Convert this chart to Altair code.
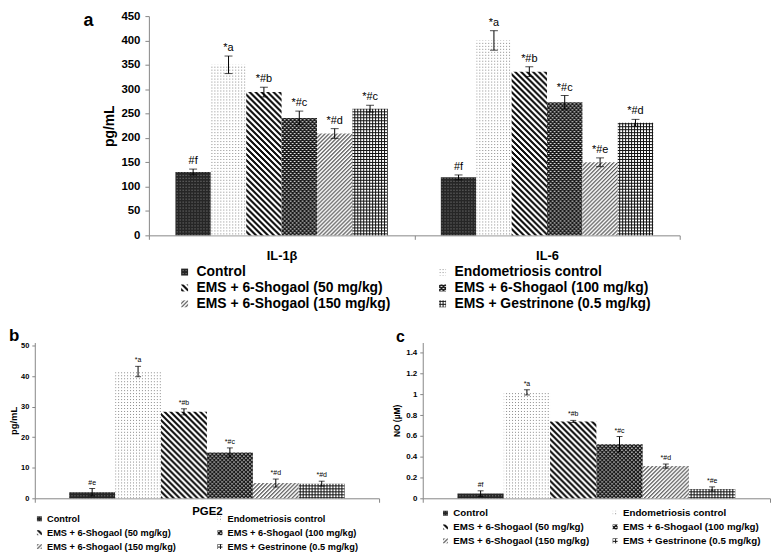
import altair as alt
import pandas as pd

# ---------------- data ----------------
groups = ["Control", "Endometriosis control", "EMS + 6-Shogaol (50 mg/kg)",
          "EMS + 6-Shogaol (100 mg/kg)", "EMS + 6-Shogaol (150 mg/kg)",
          "EMS + Gestrinone (0.5 mg/kg)"]
pattern_ids = ["pCtl", "pEndo", "p50", "p100", "p150", "pGes"]
fills = ["url(#%s)" % p for p in pattern_ids]

a_cats = ["IL-1β", "IL-6"]
il1b_mean = [130, 350, 294, 241, 209, 260]
il1b_err = [6, 18, 10, 14, 10, 7]
il1b_lab = ["#f", "*a", "*#b", "*#c", "*#d", "*#c"]
il6_mean = [119, 400, 336, 273, 150, 231]
il6_err = [5, 20, 10, 14, 9, 7]
il6_lab = ["#f", "*a", "*#b", "*#c", "*#e", "*#d"]

b_cats = ["PGE2"]
pge2_mean = [2.0, 41.5, 28.3, 15.0, 5.0, 4.8]
pge2_err = [1.2, 1.7, 1.0, 1.5, 1.3, 0.8]
pge2_lab = ["#e", "*a", "*#b", "*#c", "*#d", "*#d"]

c_cats = ["NO"]
no_mean = [0.045, 1.02, 0.74, 0.52, 0.31, 0.09]
no_err = [0.027, 0.025, 0.01, 0.075, 0.02, 0.02]
no_lab = ["#f", "*a", "*#b", "*#c", "*#d", "*#e"]

a_ticks = [0, 50, 100, 150, 200, 250, 300, 350, 400, 450]
b_ticks = [0, 10, 20, 30, 40, 50]
c_ticks = [0, 0.2, 0.4, 0.6, 0.8, 1, 1.2, 1.4]

panel_letters = ["a", "b", "c"]


def make_df(cats, means, errs, labs):
    rows = []
    for c, m, e, l in zip(cats, means, errs, labs):
        for g, mv, ev, lv in zip(groups, m, e, l):
            rows.append(dict(cat=c, grp=g, mean=mv, lo=mv - ev, hi=mv + ev, lab=lv))
    return pd.DataFrame(rows)


df_a = make_df(a_cats, [il1b_mean, il6_mean], [il1b_err, il6_err], [il1b_lab, il6_lab])
df_b = make_df(b_cats, [pge2_mean], [pge2_err], [pge2_lab])
df_c = make_df(c_cats, [no_mean], [no_err], [no_lab])

AX = "#868686"


def panel(df, cats, letter, s):
    x = alt.X("cat:N", sort=cats, title=None,
              scale=alt.Scale(paddingInner=0, paddingOuter=0),
              axis=alt.Axis(labels=s["xlabels"], labelFontSize=s["xfs"], labelFontWeight="bold",
                            labelColor="black", labelAngle=0, labelPadding=s["xpad"],
                            tickBand="extent", tickSize=4, tickColor=AX, domainColor=AX))
    xo = alt.XOffset("grp:N", sort=groups, scale=alt.Scale(paddingInner=0, paddingOuter=0.75))
    yax = alt.Axis(values=s["ticks"], format="~r", grid=False, labelFontSize=s["yfs"],
                   labelFontWeight="bold", labelColor="black", labelPadding=s["ypad"],
                   tickSize=s["tick"], tickColor=AX, domainColor=AX,
                   titleFontSize=s["tfs"], titleFontWeight="bold", titleColor="black",
                   titlePadding=s["tpad"])
    ysc = alt.Scale(domain=s["dom"], nice=False)

    def Y(f):
        return alt.Y(f, title=s["ytitle"], scale=ysc, axis=yax)

    base = alt.Chart(df)
    bars = base.mark_bar().encode(
        x=x, xOffset=xo, y=Y("mean:Q"),
        color=alt.Color("grp:N", sort=groups,
                        scale=alt.Scale(domain=groups, range=fills),
                        legend=alt.Legend(title=None, orient="none", legendX=s["lx"], legendY=s["ly"],
                                          direction="horizontal",
                                          columns=2, columnPadding=s["lcp"], rowPadding=s["lrp"],
                                          labelFontSize=s["lfs"], labelFontWeight="bold",
                                          labelColor="black", labelLimit=400,
                                          labelOffset=s["lof"], symbolType="square",
                                          symbolSize=s["lss"], symbolStrokeWidth=0,
                                          symbolOpacity=1, padding=0)))
    rules = base.mark_rule(color="black", strokeWidth=1).encode(
        x=x, xOffset=xo, y=Y("lo:Q"), y2="hi:Q")
    cap_hi = base.mark_tick(color="black", size=s["cap"], thickness=1).encode(
        x=x, xOffset=xo, y=Y("hi:Q"))
    cap_lo = base.mark_tick(color="black", size=s["cap"], thickness=1).encode(
        x=x, xOffset=xo, y=Y("lo:Q"))
    text = base.mark_text(baseline="bottom", dy=-3, fontSize=s["txt"], color="black").encode(
        x=x, xOffset=xo, y=Y("hi:Q"), text="lab:N")
    props = dict(width=s["w"], height=s["h"])
    if letter:
        props["title"] = alt.TitleParams(letter, anchor="start", frame="group", fontSize=s["letfs"],
                                         fontWeight="bold", color="black", dx=s["ldx"], dy=s["ldy"],
                                         offset=0)
    return alt.layer(bars, rules, cap_hi, cap_lo, text).properties(**props)


pa = panel(df_a, a_cats, None, dict(
    xlabels=True, xfs=13, xpad=10, ticks=a_ticks, yfs=11.5, ypad=5, tick=4, tfs=14, tpad=4,
    dom=[0, 450], ytitle="pg/mL", lx=29, ly=251, lcp=45, lrp=2, lfs=14, lof=5, lss=49,
    cap=8, txt=11, w=535, h=221))
pb = panel(df_b, b_cats, panel_letters[1], dict(
    xlabels=True, xfs=11.5, xpad=3, ticks=b_ticks, yfs=7.5, ypad=3, tick=3, tfs=9.5, tpad=2,
    dom=[0, 51], ytitle="pg/mL", lx=0, ly=173, lcp=39, lrp=4, lfs=9.3, lof=3, lss=25,
    cap=6, txt=7, w=347, h=157, letfs=17, ldx=-26, ldy=3))
pc = panel(df_c, c_cats, panel_letters[2], dict(
    xlabels=False, xfs=11, xpad=3, ticks=c_ticks, yfs=8, ypad=3, tick=3, tfs=8.5, tpad=4,
    dom=[0, 1.5], ytitle="NO (µM)", lx=18, ly=167, lcp=21, lrp=3, lfs=9.8, lof=3, lss=25,
    cap=6, txt=7, w=350, h=157, letfs=16, ldx=-27, ldy=2))

# layout spacer to the left of panel a, carrying the panel letter "a"
SPW = 115
spacer = alt.Chart(pd.DataFrame({"t": panel_letters[:1]})).mark_text(
    fontSize=18, fontWeight="bold", color="black", align="center", baseline="middle").encode(
    text="t:N", x=alt.value(SPW - 61), y=alt.value(5)).properties(width=SPW, height=221)

RES = dict(color="independent", xOffset="independent", x="independent", y="independent")
row1 = alt.hconcat(spacer, pa, spacing=0, bounds="flush").resolve_scale(**RES).resolve_legend(color="independent")
row2 = alt.hconcat(pb, pc, spacing=44, bounds="flush").resolve_scale(**RES).resolve_legend(color="independent")
chart = alt.vconcat(row1, row2, spacing=16).resolve_scale(**RES).resolve_legend(
    color="independent").properties(padding=0).configure(font="Liberation Sans").configure_view(stroke=None)


# ---------------- fill patterns (SVG defs) ----------------
def tile(pid, n, bg, pix):
    body = '<rect width="%d" height="%d" fill="%s"/>' % (n, n, bg)
    for (px, py, c) in pix:
        body += '<rect x="%d" y="%d" width="1" height="1" fill="%s"/>' % (px, py, c)
    return ('<pattern id="%s" width="%d" height="%d" patternUnits="userSpaceOnUse" '
            'shape-rendering="crispEdges">%s</pattern>') % (pid, n, n, body)


R = range
defs = "".join([
    tile("pCtl", 3, "#262626", [(1, 1, "#8a8a8a")]),
    tile("pEndo", 3, "#ffffff", [(0, 0, "#8c8c8c")]),
    tile("p50", 6, "#ffffff", [(i, j, "#111111") for i in R(6) for j in R(6) if (i - j) % 6 in (0, 1, 2)]),
    tile("p100", 4, "#1a1a1a", [(0, 0, "#ffffff"), (1, 0, "#b0b0b0"), (2, 2, "#ffffff"), (3, 2, "#b0b0b0")]),
    tile("p150", 4, "#ffffff", [(i, j, "#222222") for i in R(4) for j in R(4) if (i + j) % 4 == 3]
         + [(i, j, "#bbbbbb") for i in R(4) for j in R(4) if (i + j) % 4 == 0]),
    tile("pGes", 3, "#ffffff", [(i, j, "#111111") for i in R(3) for j in R(3) if i == 0 or j == 0]),
])

TEMPLATE = """<!DOCTYPE html>
<html>
<head>
  <meta charset="utf-8">
  <style>
    #{{ output_div }}.vega-embed { width: 100%; display: flex; }
    #{{ output_div }}.vega-embed details,
    #{{ output_div }}.vega-embed details summary { position: relative; }
  </style>
  <script type="text/javascript" src="{{ base_url }}/vega@{{ vega_version }}"></script>
  <script type="text/javascript" src="{{ base_url }}/vega-lite@{{ vegalite_version }}"></script>
  <script type="text/javascript" src="{{ base_url }}/vega-embed@{{ vegaembed_version }}"></script>
</head>
<body>
  <svg width="0" height="0" style="position:absolute;left:0;top:0;" aria-hidden="true"><defs>__DEFS__</defs></svg>
  <div id="{{ output_div }}"></div>
  <script>
    (function(vegaEmbed) {
      var spec = {{ spec }};
      var embedOpt = {{ embed_options }};
      function showError(el, error){
        el.innerHTML = ('<div style="color:red;"><p>JavaScript Error: ' + error.message + '</p></div>');
        throw error;
      }
      const el = document.getElementById('{{ output_div }}');
      vegaEmbed("#{{ output_div }}", spec, embedOpt).catch(error => showError(el, error));
    })(vegaEmbed);
  </script>
</body>
</html>
""".replace("__DEFS__", defs)

try:
    import jinja2
    tpl = jinja2.Template(TEMPLATE)
    chart.save("out.html", embed_options={"renderer": "svg", "actions": False}, template=tpl)
except Exception:
    chart.save("out.html", embed_options={"renderer": "svg", "actions": False})
